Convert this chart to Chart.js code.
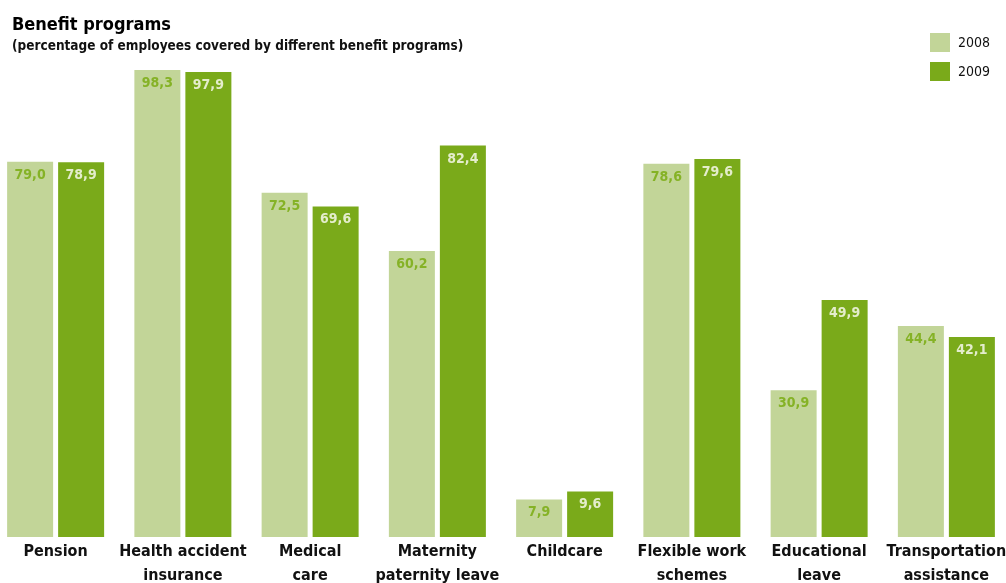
<!DOCTYPE html>
<html>
<head>
<meta charset="utf-8">
<script src="https://cdn.jsdelivr.net/npm/chart.js@4.4.1/dist/chart.umd.min.js"></script>
<style>
  html, body { margin: 0; padding: 0; background: #ffffff; overflow: hidden; }
  #wrap { position: absolute; left: -8px; top: 0; width: 1018px; height: 583px; }
</style>
</head>
<body>
<div id="wrap"><canvas id="chart" width="1018" height="583"></canvas></div>
<script>
// Benefit programs: share of employees covered, 2008 vs 2009
const categories = [
  ["Pension"],
  ["Health accident", "insurance"],
  ["Medical", "care"],
  ["Maternity", "paternity leave"],
  ["Childcare"],
  ["Flexible work", "schemes"],
  ["Educational", "leave"],
  ["Transportation", "assistance"]
];
const seriesNames = ["2008", "2009"];
const values2008 = [79.0, 98.3, 72.5, 60.2, 7.9, 78.6, 30.9, 44.4];
const values2009 = [78.9, 97.9, 69.6, 82.4, 9.6, 79.6, 49.9, 42.1];

const titleText = "Benefit programs";
const subtitleText = "(percentage of employees covered by different benefit programs)";

const lightGreen = "#c2d598";
const darkGreen = "#7aaa1a";
const FONT = "'DejaVu Sans Condensed', 'DejaVu Sans', sans-serif";

// Title, subtitle and a stacked legend in the upper corners
const headerPlugin = {
  id: "header",
  afterDraw(chart) {
    const ctx = chart.ctx;
    ctx.save();
    ctx.textAlign = "left";
    ctx.textBaseline = "alphabetic";
    ctx.fillStyle = "#000000";
    ctx.font = "bold 18px " + FONT;
    ctx.fillText(titleText, 20, 30);
    ctx.fillStyle = "#111111";
    ctx.font = "bold 13.5px " + FONT;
    ctx.fillText(subtitleText, 20, 50);

    chart.data.datasets.forEach((ds, i) => {
      const y = 33 + i * 29;
      ctx.fillStyle = ds.backgroundColor;
      ctx.fillRect(938, y, 20, 19);
      ctx.fillStyle = "#111111";
      ctx.font = "14px " + FONT;
      ctx.fillText(ds.label, 966, y + 14);
    });
    ctx.restore();
  }
};

// Value labels placed just inside the top of every bar
const valueLabelPlugin = {
  id: "valueLabels",
  afterDatasetsDraw(chart) {
    const ctx = chart.ctx;
    ctx.save();
    ctx.textAlign = "center";
    ctx.textBaseline = "alphabetic";
    ctx.font = "bold 14px " + FONT;
    chart.data.datasets.forEach((ds, i) => {
      const meta = chart.getDatasetMeta(i);
      meta.data.forEach((bar, j) => {
        const v = ds.data[j];
        ctx.fillStyle = ds.labelColor;
        ctx.fillText(v.toFixed(1).replace(".", ","), bar.x, bar.y + 17);
      });
    });
    ctx.restore();
  }
};

new Chart(document.getElementById("chart"), {
  type: "bar",
  data: {
    labels: categories,
    datasets: [
      { label: seriesNames[0], data: values2008, backgroundColor: lightGreen, labelColor: "#85b226" },
      { label: seriesNames[1], data: values2009, backgroundColor: darkGreen, labelColor: "#e4edcc" }
    ]
  },
  options: {
    responsive: false,
    animation: false,
    devicePixelRatio: 1,
    categoryPercentage: 0.8016,
    barPercentage: 0.902,
    layout: { padding: { top: 62, left: 0, right: 0, bottom: 0 } },
    plugins: {
      legend: { display: false },
      tooltip: { enabled: false },
      title: { display: false }
    },
    scales: {
      x: {
        grid: { display: false },
        border: { display: false },
        ticks: {
          color: "#111111",
          font: { family: FONT, size: 16, weight: "bold", lineHeight: 1.5 },
          autoSkip: false,
          maxRotation: 0,
          minRotation: 0,
          padding: -5
        },
        afterFit(scale) { scale.height = 46; }
      },
      y: {
        display: false,
        min: 0,
        max: 100
      }
    }
  },
  plugins: [headerPlugin, valueLabelPlugin]
});
</script>
</body>
</html>
